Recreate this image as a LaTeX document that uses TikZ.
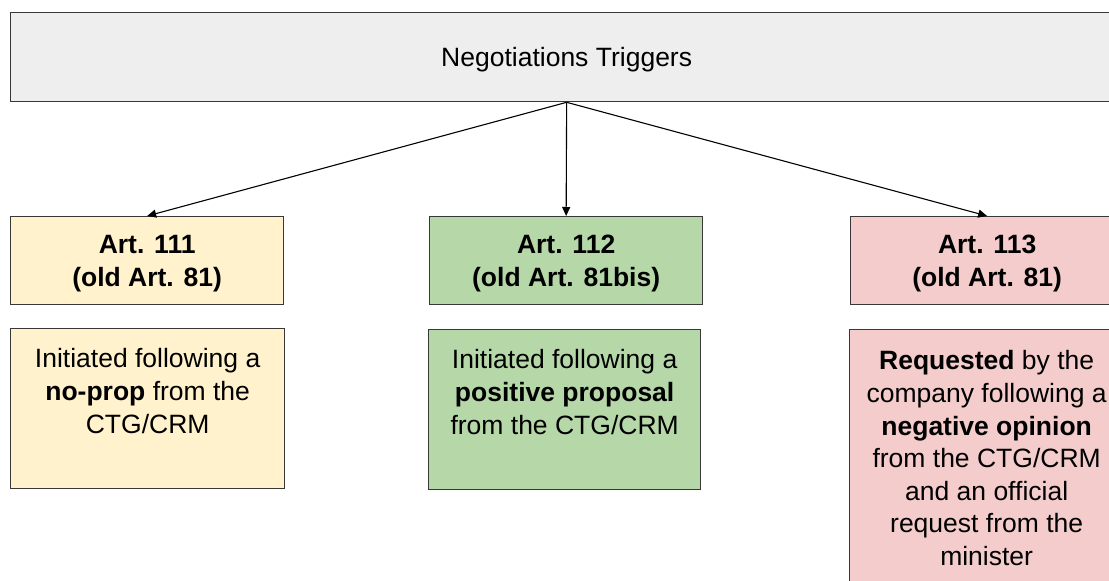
\documentclass[tikz,border=0pt]{standalone}
\usepackage{fontspec}
\setmainfont{Liberation Sans}
\usetikzlibrary{arrows.meta}
\definecolor{topfill}{HTML}{EEEEEE}
\definecolor{yelfill}{HTML}{FFF2CC}
\definecolor{grnfill}{HTML}{B6D7A8}
\definecolor{redfill}{HTML}{F4CCCC}
\definecolor{edge}{HTML}{383838}
\begin{document}
\begin{tikzpicture}[x=1pt,y=-1pt,
  box/.style={draw=edge, line width=1.3pt, rectangle, inner sep=0pt, anchor=north west},
  artbox/.style={box, minimum width=273pt, minimum height=88pt},
  txt/.style={font=\fontsize{26.5}{32.6}\selectfont, align=center, inner sep=0pt, anchor=north},
  arttxt/.style={txt, anchor=center, font=\fontsize{26.5}{32.6}\selectfont\bfseries},
  conn/.style={-{Triangle[length=9pt,width=8pt]}, line width=1.1pt, draw=black}]
\useasboundingbox (0,0) rectangle (1109,581);
\clip (0,0) rectangle (1109,581);
\node[box, fill=topfill, minimum width=1112pt, minimum height=89pt] (top) at (10,12) {};
\node[txt, anchor=center] (toptxt) at ([yshift=-2pt]top.center) {Negotiations Triggers};

\node[artbox, fill=yelfill] (a111) at (10,216) {};
\node[artbox, fill=grnfill] (a112) at (429,216) {};
\node[artbox, fill=redfill] (a113) at (850,216) {};
\node[arttxt] (l111) at ([yshift=-3pt]a111.center) {Art. 111\\(old Art. 81)};
\node[arttxt] (l112) at ([yshift=-3pt]a112.center) {Art. 112\\(old Art. 81bis)};
\node[arttxt] (l113) at ([yshift=-3pt]a113.center) {Art. 113\\(old Art. 81)};

\node[box, fill=yelfill, minimum width=274pt, minimum height=160pt] (c111) at (10,328) {};
\node[box, fill=grnfill, minimum width=272pt, minimum height=160pt] (c112) at (428,329) {};
\node[box, fill=redfill, minimum width=274pt, minimum height=300pt] (c113) at (849,329) {};

\node[txt] (t111) at ([yshift=-20.5pt]c111.north) {Initiated following a\\\textbf{no-prop} from the\\CTG/CRM};
\node[txt] (t112) at ([yshift=-20.5pt]c112.north) {Initiated following a\\\textbf{positive proposal}\\from the CTG/CRM};
\node[txt] (t113) at ([yshift=-21.5pt]c113.north) {\textbf{Requested} by the\\company following a\\\textbf{negative opinion}\\from the CTG/CRM\\and an official\\request from the\\minister};

\draw[conn] (top.south) -- (a111.north);
\draw[conn] (top.south) -- (a112.north);
\draw[conn] (top.south) -- (a113.north);
\end{tikzpicture}
\end{document}
